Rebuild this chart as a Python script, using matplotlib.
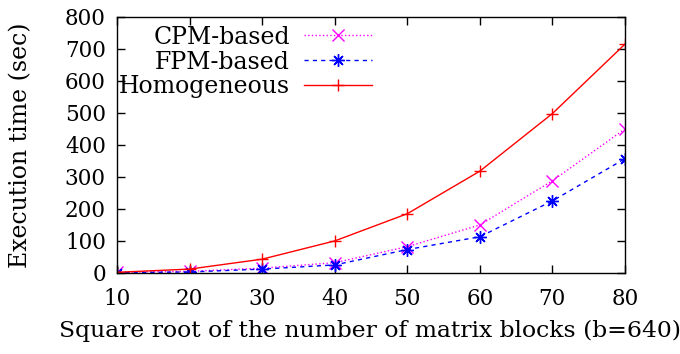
import numpy as np
import matplotlib.pyplot as plt

plt.rcParams['font.family'] = ['DejaVu Serif']

blocks = [10, 20, 30, 40, 50, 60, 70, 80]
cpm = [2, 5, 15, 32, 82, 150, 288, 450]
fpm = [1, 3, 12, 25, 73, 113, 225, 357]
homog = [2, 12, 43, 100, 185, 318, 498, 715]

fig = plt.figure(figsize=(6.8, 3.54), dpi=100)
ax = fig.add_axes([0.172, 0.229, 0.747, 0.723])

ax.plot(blocks, cpm, color='#ff00ff', linestyle=':', linewidth=1,
        marker='x', markersize=8, markeredgewidth=1, label='CPM-based')
ax.plot(blocks, fpm, color='#0000ff', linestyle='--', dashes=(3, 3), linewidth=1,
        marker=(8, 2, 0), markersize=9, markeredgewidth=1, label='FPM-based')
ax.plot(blocks, homog, color='#ff0000', linestyle='-', linewidth=1,
        marker='+', markersize=9, markeredgewidth=1, label='Homogeneous')

ax.set_xlim(10, 80)
ax.set_ylim(0, 800)
ax.set_xticks(blocks)
ax.set_yticks(range(0, 801, 100))
ax.tick_params(direction='in', top=True, right=True, length=6, width=1,
               labelsize=15.5)
ax.tick_params(axis='x', pad=11)
ax.tick_params(axis='y', pad=8)
for s in ax.spines.values():
    s.set_linewidth(1)

ax.set_xlabel('Square root of the number of matrix blocks (b=640)', fontsize=16.9,
              va='top')
ax.xaxis.set_label_coords(0.498, -0.185)
ax.set_ylabel('Execution time (sec)', fontsize=17, va='center')
ax.yaxis.set_label_coords(-0.19, 0.5)

leg = ax.legend(loc='upper right', bbox_to_anchor=(0.51, 0.98), markerfirst=False,
                frameon=False, fontsize=17, handlelength=2.9, handletextpad=0.6,
                labelspacing=0.08, borderpad=0.15, borderaxespad=0)

plt.savefig('out.png', dpi=100)
